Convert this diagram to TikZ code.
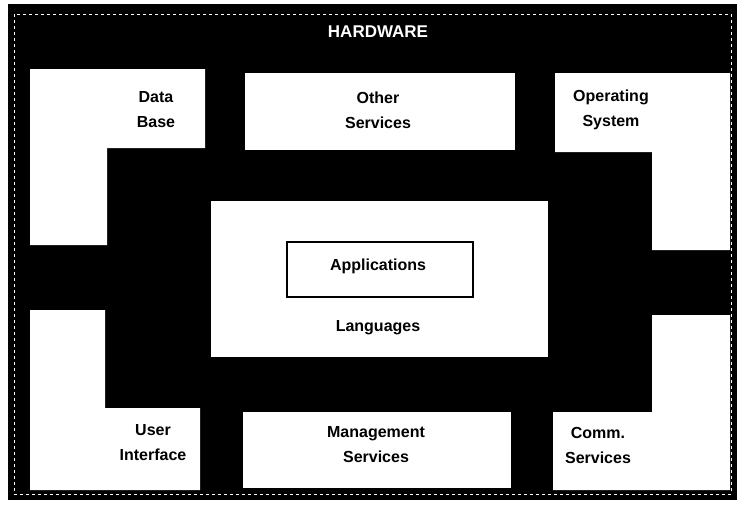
\documentclass[tikz,border=0pt]{standalone}
\usepackage{fontspec}
\setmainfont{Liberation Sans}
\usepackage{tikz}
\usetikzlibrary{positioning}

\tikzset{
  panel/.style={fill=white},
  lbl/.style={font=\bfseries\fontsize{16}{25}\selectfont, align=center, text=black, inner sep=0pt},
}

\begin{document}
\begin{tikzpicture}[x=1pt,y=-1pt]
            \useasboundingbox (0,0) rectangle (743,507);
            \fill[white] (0,0) rectangle (743,507);
            % hardware frame
            \fill[black] (8,4) rectangle (737,500);
            \draw[white,dashed,line width=0.5pt] (14,14) rectangle (731,494);
            \node[font=\bfseries\fontsize{17}{20}\selectfont,text=white,inner sep=0pt](hw) at (378,32) {HARDWARE};
            % corner and side panels
            \fill[panel] (30,69) -- (205,69) -- (205,148) -- (107,148) -- (107,245) -- (30,245) -- cycle;
            \fill[panel] (245,73) rectangle (515,150);
            \fill[panel] (555,73) -- (730,73) -- (730,250) -- (652,250) -- (652,152) -- (555,152) -- cycle;
            \fill[panel] (30,310) -- (105,310) -- (105,408) -- (200,408) -- (200,490) -- (30,490) -- cycle;
            \fill[panel] (243,412) rectangle (511,488);
            \fill[panel] (652,315) -- (730,315) -- (730,490) -- (553,490) -- (553,412) -- (652,412) -- cycle;
            % core
            \fill[panel] (211,201) rectangle (548,357);
            \draw[line width=1.5pt,fill=white] (287,242) rectangle (473,297);
            % labels
            \node[lbl](db) at (156,110) {Data\\Base};
            \node[lbl](os) at (378,110) {Other\\Services};
            \node[lbl](sys) at (611,110) {Operating\\System};
            \node[lbl](app) at (378,266) {Applications};
            \node[lbl](lang) at (378,328) {Languages};
            \node[lbl](ui) at (153,443) {User\\Interface};
            \node[lbl](ms) at (376,445) {Management\\Services};
            \node[lbl](cs) at (598,445) {Comm.\\Services};
        \end{tikzpicture}
\end{document}
